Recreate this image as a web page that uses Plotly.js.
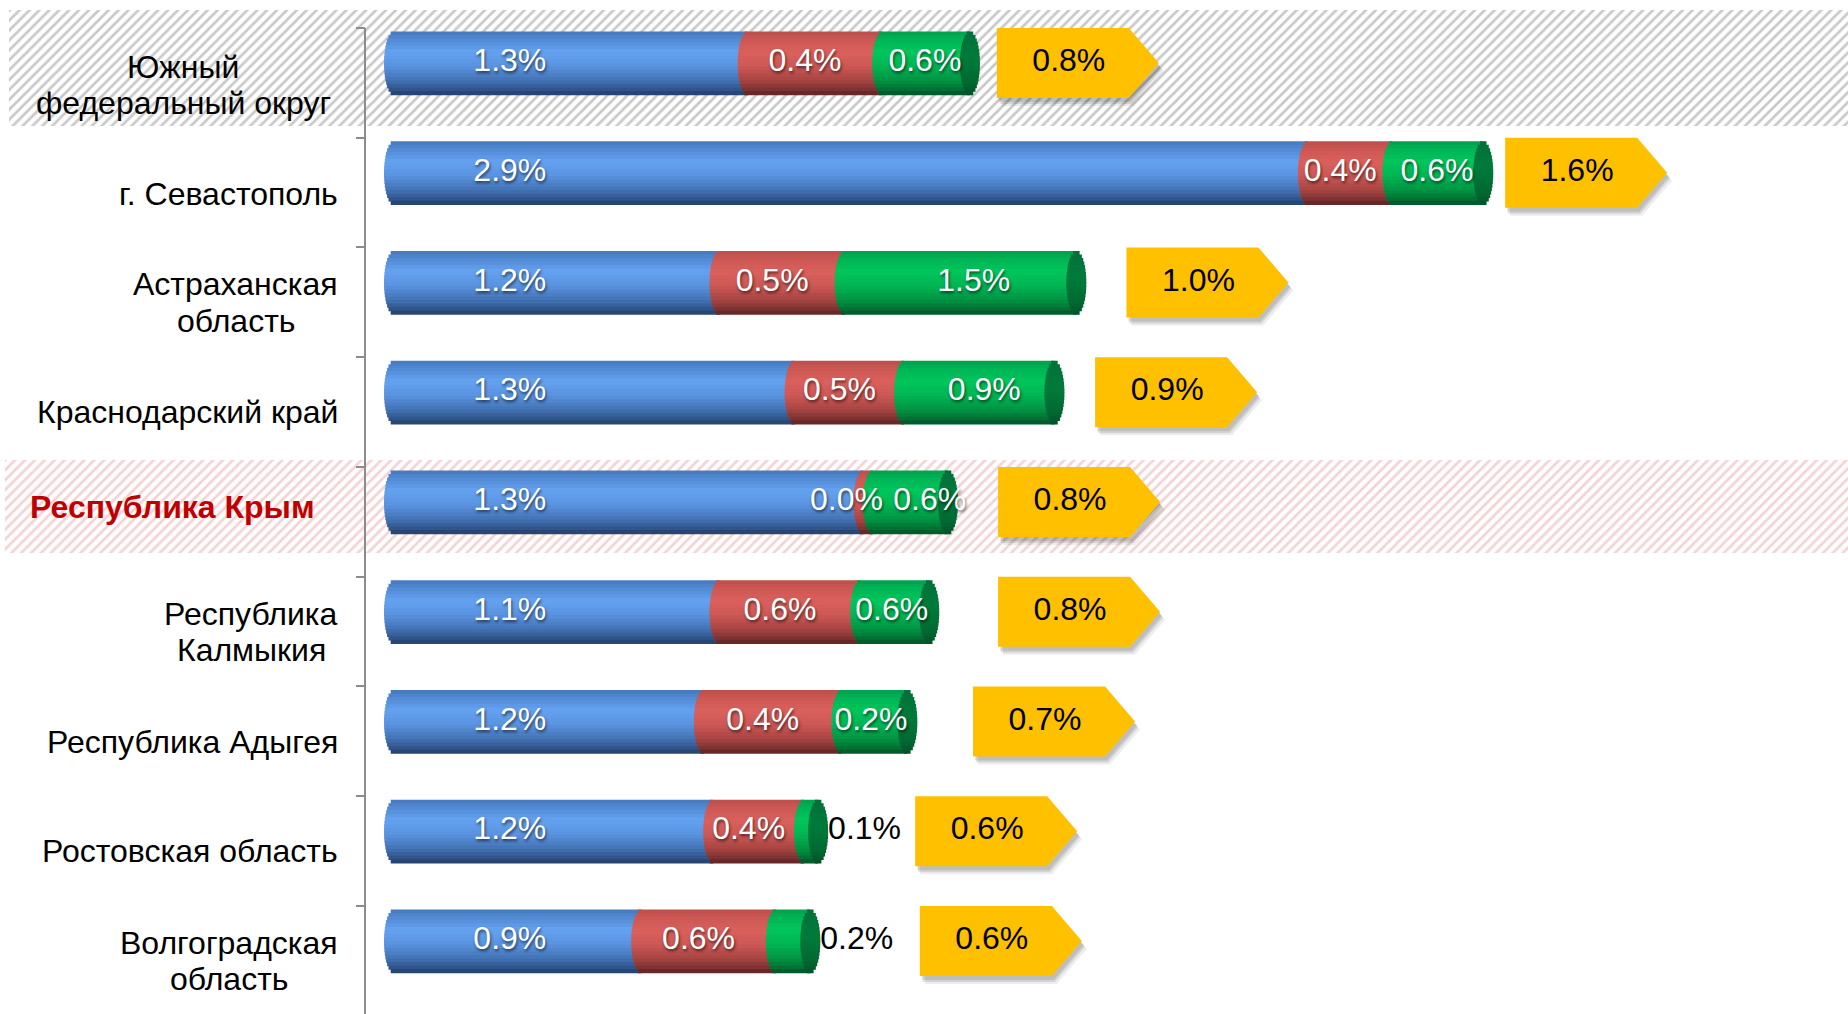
<!DOCTYPE html>
<html><head><meta charset="utf-8">
<script src="https://cdn.plot.ly/plotly-3.0.1.min.js"></script>
<style>html,body{margin:0;padding:0;background:#fff;overflow:hidden}#chart{width:1848px;height:1014px}</style>
</head><body><div id="chart"></div>
<script>
// ---------------- data ----------------
const categories = ['Южный<br>федеральный округ','г. Севастополь','Астраханская<br>область','Краснодарский край','Республика Крым','Республика<br>Калмыкия','Республика Адыгея','Ростовская область','Волгоградская<br>область'];
const blueVals  = [1.13, 2.92, 1.04, 1.28, 1.50, 1.04, 0.99, 1.02, 0.79];
const redVals   = [0.43, 0.27, 0.40, 0.35, 0.03, 0.45, 0.44, 0.29, 0.43];
const greenVals = [0.28, 0.29, 0.74, 0.48, 0.24, 0.22, 0.21, 0.045, 0.11];
const spacerVals = [0.086, 0.07, 0.16, 0.13, 0.16, 0.22, 0.21, 0.31, 0.35];
const blueLabels  = ['1.3%','2.9%','1.2%','1.3%','1.3%','1.1%','1.2%','1.2%','0.9%'];
const redLabels   = ['0.4%','0.4%','0.5%','0.5%','0.0%','0.6%','0.4%','0.4%','0.6%'];
const greenLabels = ['0.6%','0.6%','1.5%','0.9%','0.6%','0.6%','0.2%','0.1%','0.2%'];
const arrowLabels = ['0.8%','1.6%','1.0%','0.9%','0.8%','0.8%','0.7%','0.6%','0.6%'];
const highlightRows = [0, 4];

// ---------------- layout constants (style) ----------------
const W = 1848, H = 1014;
const PXU = 313, ZERO_PX = 394, AXIS_PX = 366;
const ROW0_PX = 63, ROW_STEP = 109.75;
const yTop = -ROW0_PX / ROW_STEP, yBottom = (H - ROW0_PX) / ROW_STEP;
const xLeft = (AXIS_PX - ZERO_PX) / PXU, xRight = (W - ZERO_PX) / PXU;
const BAR_H = 63 / ROW_STEP;
const RX = 10 / PXU;
const N = 18;
const NARROW = 'Liberation Sans Narrow, Arial Narrow, Liberation Sans, Arial, sans-serif';
const REG = 'Liberation Sans, Arial, sans-serif';
const VAL_SIZE = 32, CAT_SIZE = 32, LINE_H = 36.5;

const idx = categories.map((_, i) => i);
const blueEnd = blueVals.slice();
const redEnd = blueVals.map((b, i) => b + redVals[i]);
const total = redEnd.map((r, i) => r + greenVals[i]);

function hex2rgb(h){h=h.replace('#','');return [0,2,4].map(j=>parseInt(h.substr(j,2),16));}
function grad(stops, f){
  for (let s = 0; s < stops.length - 1; s++) {
    const [f0,c0] = stops[s], [f1,c1] = stops[s+1];
    if (f >= f0 && f <= f1) {
      const t = (f - f0) / (f1 - f0), a = hex2rgb(c0), b = hex2rgb(c1);
      return 'rgb(' + a.map((v,j)=>Math.round(v + (b[j]-v)*t)).join(',') + ')';
    }
  }
  return stops[stops.length-1][1];
}
const blueStops  = [[0,'#4677BC'],[0.12,'#5189D2'],[0.32,'#64A2F0'],[0.55,'#5A93DF'],[0.78,'#4272B3'],[0.92,'#30548A'],[1,'#233E66']];
const redStops   = [[0,'#BC4E4B'],[0.12,'#CB5753'],[0.32,'#DA605C'],[0.55,'#CD5855'],[0.78,'#A64442'],[0.92,'#7D3231'],[1,'#5C2423']];
const greenStops = [[0,'#009E4C'],[0.12,'#00B354'],[0.32,'#00C65C'],[0.55,'#00B553'],[0.78,'#009443'],[0.92,'#006F33'],[1,'#005327']];
const capStops   = [[0,'#00703A'],[0.4,'#007B3B'],[0.8,'#006A32'],[1,'#00522A']];

const traces = [];
// hatched highlight bands
const bandStyle = {0:{off:-0.483, w:1.057, left:9, fg:'#c9c9c9'}, 4:{off:-0.383, w:0.848, left:5, fg:'#f3d3d3'}};
highlightRows.forEach(r => {
  const st = bandStyle[r];
  traces.push({type:'bar', orientation:'h', xaxis:'x', yaxis:'y', y:[r], base:[st.left], x:[W - st.left],
    width:[st.w], offset:[st.off],
    marker:{color:'#ffffff', line:{width:0}, pattern:{shape:'/', fgcolor:st.fg, bgcolor:'#ffffff', size:7, solidity:0.38}},
    hoverinfo:'skip', showlegend:false});
});

// cylinder strips
function stripTrace(k, baseFn, lenFn, stops){
  const f = (k + 0.5) / N;
  const dy = -BAR_H/2 + f*BAR_H;
  const t = dy / (BAR_H/2);
  const bulge = RX * Math.sqrt(Math.max(0, 1 - t*t));
  return {type:'bar', orientation:'h', xaxis:'x2', yaxis:'y', y:idx,
    base: idx.map(i => baseFn(i, bulge)), x: idx.map(i => lenFn(i, bulge)),
    width: BAR_H/N + 0.007, offset: -BAR_H/2 + k*BAR_H/N,
    marker:{color:grad(stops, f), line:{width:0}}, hoverinfo:'skip', showlegend:false};
}
for (let k = 0; k < N; k++) traces.push(stripTrace(k, (i,b)=>0 - b, (i,b)=>blueVals[i] + b, blueStops));
for (let k = 0; k < N; k++) traces.push(stripTrace(k, (i,b)=>blueEnd[i] - b, (i,b)=>redVals[i] + b, redStops));
for (let k = 0; k < N; k++) traces.push(stripTrace(k, (i,b)=>redEnd[i] - b, (i,b)=>greenVals[i] + b, greenStops));
for (let k = 0; k < N; k++) traces.push(stripTrace(k, (i,b)=>total[i] - b, (i,b)=>2*b, capStops));

// arrows
const BODY = 132/PXU, TIP = 30/PXU, AH = 35/ROW_STEP;
const arrowX0 = idx.map(i => total[i] + spacerVals[i]);
function arrowPoly(dx, dy){
  const xs = [], ys = [];
  idx.forEach(i => {
    const x0 = arrowX0[i] + dx, y = i + dy;
    xs.push(x0, x0+BODY, x0+BODY+TIP, x0+BODY, x0, x0, null);
    ys.push(y-AH, y-AH, y, y+AH, y+AH, y-AH, null);
  });
  return {xs, ys};
}
[[5,8,'rgba(0,0,0,0.07)'],[3,6,'rgba(0,0,0,0.10)'],[2,4,'rgba(0,0,0,0.10)']].forEach(([px,py,c]) => {
  const p = arrowPoly(px/PXU, py/ROW_STEP);
  traces.push({type:'scatter', mode:'lines', xaxis:'x2', yaxis:'y', x:p.xs, y:p.ys, fill:'toself', fillcolor:c,
    line:{width:0, color:'rgba(0,0,0,0)'}, hoverinfo:'skip', showlegend:false});
});
{
  const p = arrowPoly(0, 0);
  traces.push({type:'scatter', mode:'lines', xaxis:'x2', yaxis:'y', x:p.xs, y:p.ys, fill:'toself', fillcolor:'#FFC000',
    line:{width:0, color:'#FFC000'}, hoverinfo:'skip', showlegend:false});
}

// value labels
const SHADOW = 'rgba(0,0,0,0.6) 1px 2px 3px';
const whiteFont = {family:NARROW, size:VAL_SIZE, color:'#ffffff', shadow:SHADOW};
const blackFont = {family:NARROW, size:VAL_SIZE, color:'#000000'};
const LBL_W = 0.22;
function textTrace(xs, texts, pos, font){
  return {type:'scatter', mode:'text', xaxis:'x2', yaxis:'y', x:xs, y:idx, text:texts, textposition:pos,
    textfont:font, cliponaxis:false, hoverinfo:'skip', showlegend:false};
}
traces.push(textTrace(idx.map(i => 0.37), blueLabels, 'middle center', whiteFont));
// red
traces.push(textTrace(idx.map(i => redVals[i] < LBL_W ? null : blueEnd[i] + redVals[i]/2 - RX), redLabels, 'middle center', whiteFont));
traces.push(textTrace(idx.map(i => redVals[i] < LBL_W ? redEnd[i] + RX : null), redLabels, 'middle left', whiteFont));
// green
const greenInside = i => greenVals[i] >= 0.15;
traces.push(textTrace(idx.map(i => (greenInside(i) && redVals[i] >= LBL_W) ? (redEnd[i] - RX) + 0.6*(total[i] - redEnd[i]) : null), greenLabels, 'middle center', whiteFont));
traces.push(textTrace(idx.map(i => (greenInside(i) && redVals[i] < LBL_W) ? redEnd[i] + 0.065 : null), greenLabels, 'middle right', whiteFont));
traces.push(textTrace(idx.map(i => greenInside(i) ? null : total[i] + RX), greenLabels, 'middle right', blackFont));
// arrow labels
traces.push(textTrace(arrowX0.map(x => x + 0.23), arrowLabels, 'middle center', blackFont));

// category labels: one annotation per line, lines centred within a right-aligned block
const labelRight = [331,338,338,338,315,338,338,338,338];
const labelDy = [-22,-21,-20,-20,-5,-20,-20,-20,-20];
const cv = document.createElement('canvas').getContext('2d');
const annotations = [];
categories.forEach((c, i) => {
  const hi = i === 4;
  const lines = c.split('<br>');
  cv.font = (hi ? 'bold ' : '') + CAT_SIZE + 'px "Liberation Sans", Arial, sans-serif';
  const widths = lines.map(l => cv.measureText(l).width);
  const maxW = Math.max(...widths);
  const cx = labelRight[i] - maxW/2;
  lines.forEach((l, j) => {
    annotations.push({text: l, xref:'paper', yref:'y', x: cx/W, y: i, xanchor:'center', yanchor:'middle',
      yshift: labelDy[i] + ((lines.length-1)/2 - j)*LINE_H, showarrow:false,
      font:{family:REG, size:CAT_SIZE, color: hi ? '#C00000' : '#000000', weight: hi ? 'bold' : 'normal'}});
  });
});

const layout = {
  width: W, height: H, margin:{l:0, r:0, t:0, b:0, autoexpand:false},
  paper_bgcolor:'#ffffff', plot_bgcolor:'rgba(0,0,0,0)', barmode:'overlay', showlegend:false, hovermode:false,
  xaxis:{domain:[0,1], range:[0,W], visible:false, fixedrange:true, anchor:'y'},
  xaxis2:{domain:[AXIS_PX/W, 1], range:[xLeft, xRight], anchor:'y', showgrid:false, zeroline:false, showline:false, showticklabels:false, ticks:''},
  yaxis:{range:[yBottom, yTop], anchor:'x2', tickmode:'array', tickvals: idx.map(i => i - 0.32), ticktext: idx.map(() => ''),
    ticks:'outside', ticklen:9, tickwidth:2, tickcolor:'#8c8c8c', showgrid:false, zeroline:false, showline:false},
  shapes:[{type:'line', xref:'paper', yref:'y', x0:(AXIS_PX-1)/W, x1:(AXIS_PX-1)/W, y0:-0.32, y1:yBottom,
    line:{color:'#8c8c8c', width:2}, layer:'above'}],
  annotations
};
Plotly.newPlot('chart', traces, layout, {staticPlot:true, displayModeBar:false});
</script></body></html>
